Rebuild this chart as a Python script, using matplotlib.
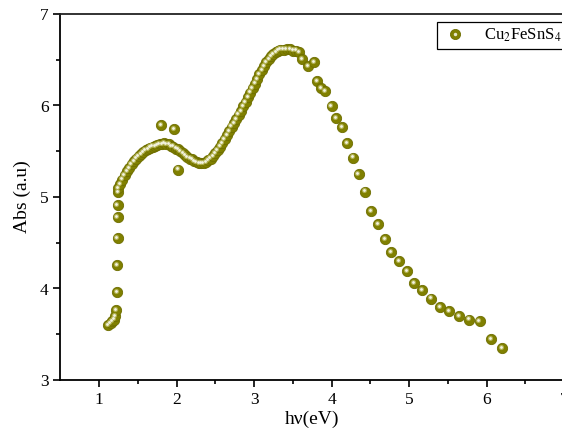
# Absorbance vs photon energy for Cu2FeSnS4
import matplotlib.pyplot as plt
from matplotlib.lines import Line2D
from matplotlib.legend_handler import HandlerTuple
from matplotlib.transforms import offset_copy

plt.rcParams['font.family'] = ['Liberation Serif', 'DejaVu Serif']
plt.rcParams['mathtext.fontset'] = 'stix'

# data
hv = [1.12, 1.15, 1.17, 1.19, 1.21, 1.22, 1.23, 1.23, 1.24, 1.24, 1.24, 1.25, 1.25,
      1.27, 1.30, 1.33, 1.36, 1.39, 1.42, 1.45, 1.48, 1.51, 1.54, 1.57, 1.60,
      1.63, 1.66, 1.69, 1.72, 1.75, 1.78, 1.81, 1.84, 1.87, 1.90, 1.93, 1.96,
      1.99, 2.02, 2.05, 2.08, 2.11, 2.14, 2.17, 2.20, 2.23, 2.26, 2.29, 2.32,
      2.35, 2.38, 2.41, 2.44, 2.47, 2.50, 2.53, 2.56, 2.59, 2.62, 2.65, 2.68,
      2.71, 2.74, 2.77, 2.80, 2.83, 2.86, 2.89, 2.92, 2.95, 2.98, 3.01, 3.04,
      3.07, 3.10, 3.13, 3.16, 3.19, 3.22, 3.25, 3.28, 3.31, 3.34, 3.38, 3.42,
      3.46, 3.50, 3.54, 3.58, 3.62,
      1.80, 1.97, 2.02,
      3.70, 3.77, 3.81, 3.87, 3.92, 4.00, 4.06, 4.14, 4.20, 4.28, 4.35, 4.43,
      4.51, 4.60, 4.69, 4.77, 4.87, 4.97, 5.07, 5.17, 5.28, 5.40, 5.52, 5.65,
      5.77, 5.91, 6.06, 6.20]
absorb = [3.60, 3.62, 3.64, 3.66, 3.70, 3.76, 3.96, 4.26, 4.55, 4.78, 4.91, 5.05, 5.10,
          5.14, 5.19, 5.24, 5.28, 5.32, 5.36, 5.39, 5.42, 5.45, 5.47, 5.49, 5.51,
          5.52, 5.54, 5.55, 5.56, 5.57, 5.58, 5.58, 5.59, 5.58, 5.58, 5.56, 5.55,
          5.53, 5.52, 5.50, 5.48, 5.46, 5.44, 5.42, 5.41, 5.39, 5.38, 5.37, 5.37,
          5.37, 5.38, 5.40, 5.42, 5.45, 5.48, 5.51, 5.55, 5.59, 5.63, 5.68, 5.72,
          5.77, 5.81, 5.85, 5.90, 5.94, 5.99, 6.04, 6.09, 6.14, 6.19, 6.24, 6.29,
          6.34, 6.39, 6.43, 6.47, 6.51, 6.54, 6.56, 6.58, 6.60, 6.61, 6.61, 6.62,
          6.62, 6.60, 6.60, 6.58, 6.51,
          5.79, 5.74, 5.30,
          6.43, 6.47, 6.27, 6.19, 6.16, 5.99, 5.86, 5.76, 5.59, 5.43, 5.25, 5.06,
          4.85, 4.70, 4.54, 4.40, 4.30, 4.19, 4.06, 3.98, 3.89, 3.80, 3.75, 3.70,
          3.66, 3.64, 3.45, 3.35]

olive = '#808000'

fig = plt.figure(figsize=(5.62, 4.48), dpi=100)
ax = fig.add_axes([60.3 / 562, 68 / 448, 503.75 / 562, 366 / 448])

# ball markers: base disc, lighter core, white highlight
ax.scatter(hv, absorb, s=55, color=olive, edgecolors='#6e6e00', linewidths=0.6, zorder=3)
shine = offset_copy(ax.transData, fig=fig, x=-1.2, y=1.2, units='dots')
ax.scatter(hv, absorb, s=14, color='#b0b050', linewidths=0, zorder=4, transform=shine)
ax.scatter(hv, absorb, s=4, color='#f4f4e4', linewidths=0, zorder=5, transform=shine)

ax.set_xlim(0.5, 7.0)
ax.set_ylim(3, 7)
ax.set_xticks([1, 2, 3, 4, 5, 6, 7])
ax.set_yticks([3, 4, 5, 6, 7])
ax.set_xticks([1.5, 2.5, 3.5, 4.5, 5.5, 6.5], minor=True)
ax.set_yticks([3.5, 4.5, 5.5, 6.5], minor=True)
ax.tick_params(which='major', direction='out', length=5, width=1.2, labelsize=12.5, colors='black')
ax.tick_params(which='minor', direction='out', length=3, width=1.2)
for sp in ax.spines.values():
    sp.set_linewidth(1.3)
ax.spines['top'].set_color('#222222')

ax.set_xlabel('hν(eV)', fontsize=14, labelpad=2)
ax.set_ylabel('Abs (a.u)', fontsize=14, labelpad=6)

h1 = Line2D([], [], ls='none', marker='o', ms=7.3, color=olive, mec='#6e6e00', mew=0.6)
h2 = Line2D([], [], ls='none', marker='o', ms=2.5, color='#e6e6c8', mew=0)
leg = ax.legend([(h1, h2)], ['Cu$_2$FeSnS$_4$'], handler_map={tuple: HandlerTuple(ndivide=1)},
                loc='upper left', bbox_to_anchor=(437 / 562, 1 - 22 / 448),
                bbox_transform=fig.transFigure, borderaxespad=0, fontsize=12,
                fancybox=False, edgecolor='black', framealpha=1,
                handlelength=1.6, handletextpad=0.9, borderpad=0.3)
leg.get_frame().set_linewidth(0.9)

fig.savefig('out.png', dpi=100)
